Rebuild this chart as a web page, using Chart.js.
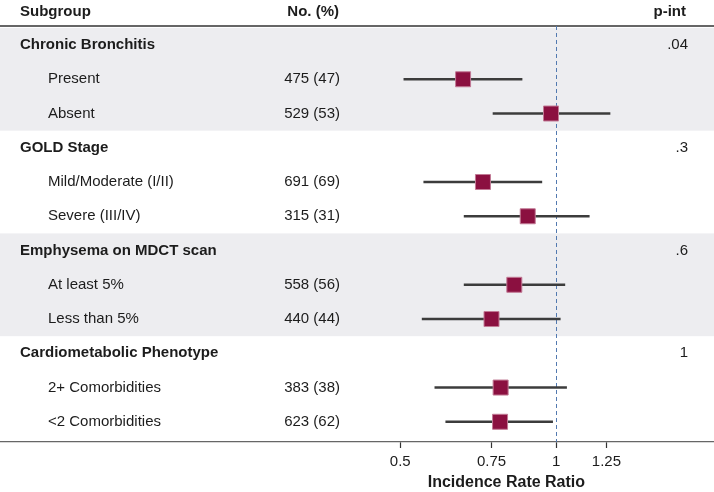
<!DOCTYPE html>
<html>
<head>
<meta charset="utf-8">
<script src="https://cdn.jsdelivr.net/npm/chart.js@4/dist/chart.umd.min.js"></script>
<style>
  html, body { margin: 0; padding: 0; background: #fff; }
  #wrap { width: 714px; height: 492px; position: relative; }
</style>
</head>
<body>
<div id="wrap"><canvas id="forest"></canvas></div>
<script>
// Grupos y valores
const groups = ['Chronic Bronchitis', 'GOLD Stage', 'Emphysema on MDCT scan', 'Cardiometabolic Phenotype'];
const pInt = ['.04', '.3', '.6', '1'];
const subgroups = ['Present', 'Absent', 'Mild/Moderate (I/II)', 'Severe (III/IV)',
                   'At least 5%', 'Less than 5%', '2+ Comorbidities', '<2 Comorbidities'];
const counts = ['475 (47)', '529 (53)', '691 (69)', '315 (31)',
                '558 (56)', '440 (44)', '383 (38)', '623 (62)'];
const irr   = [0.661, 0.977, 0.722, 0.881, 0.830, 0.750, 0.781, 0.779];
const lower = [0.508, 0.755, 0.555, 0.664, 0.664, 0.551, 0.583, 0.612];
const upper = [0.859, 1.270, 0.938, 1.158, 1.039, 1.018, 1.047, 0.984];
const tickValues = [0.5, 0.75, 1, 1.25];

// fila de cada grupo / subgrupo (0 = primer grupo)
const groupRow = groups.map((g, i) => i * 3);
const subRow = subgroups.map((s, i) => Math.floor(i / 2) * 3 + 1 + (i % 2));

const FONT = '"Liberation Sans", Arial, Helvetica, sans-serif';
const TEXT = '#1c1c1c';

const tablePlugin = {
    id: 'tablePlugin',
    beforeDatasetsDraw(chart) {
        const c = chart.ctx;
        const area = chart.chartArea;
        const x = chart.scales.x;
        const y = chart.scales.y;
        c.save();
        // bandas grises para el 1º y 3º grupo
        c.fillStyle = '#ededf0';
        [0, 2].forEach(g => {
            const top = y.getPixelForValue(groupRow[g] - 0.5);
            const bot = y.getPixelForValue(groupRow[g] + 2.5);
            c.fillRect(area.left, top, area.right - area.left, bot - top);
        });
        // línea bajo la cabecera
        const ruleY = y.getPixelForValue(-0.555);
        c.strokeStyle = '#333';
        c.lineWidth = 1.5;
        c.beginPath();
        c.moveTo(area.left, ruleY);
        c.lineTo(area.right, ruleY);
        c.stroke();
        // línea de referencia en 1
        const xr = Math.round(x.getPixelForValue(1)) + 0.5;
        c.strokeStyle = '#5279b0';
        c.lineWidth = 1;
        c.setLineDash([4, 3]);
        c.beginPath();
        c.moveTo(xr, ruleY);
        c.lineTo(xr, area.bottom);
        c.stroke();
        c.restore();
    },
    afterDraw(chart) {
        const c = chart.ctx;
        const x = chart.scales.x;
        const y = chart.scales.y;
        c.save();
        c.fillStyle = TEXT;
        c.textBaseline = 'middle';
        const headY = y.getPixelForValue(-1) + 1;
        c.font = 'bold 15px ' + FONT;
        c.textAlign = 'left';
        c.fillText('Subgroup', 20, headY);
        c.textAlign = 'right';
        c.fillText('No. (%)', 339, headY);
        c.fillText('p-int', 686, headY);

        groups.forEach((g, i) => {
            const py = y.getPixelForValue(groupRow[i]);
            c.font = 'bold 15px ' + FONT;
            c.textAlign = 'left';
            c.fillText(g, 20, py);
            c.font = '15px ' + FONT;
            c.textAlign = 'right';
            c.fillText(pInt[i], 688, py);
        });
        c.font = '15px ' + FONT;
        subgroups.forEach((s, i) => {
            const py = y.getPixelForValue(subRow[i]);
            c.textAlign = 'left';
            c.fillText(s, 48, py);
            c.textAlign = 'right';
            c.fillText(counts[i], 340, py);
        });

        // título del eje x
        const mid = (x.getPixelForValue(tickValues[0]) + x.getPixelForValue(tickValues[tickValues.length - 1])) / 2 + 3;
        c.font = 'bold 16px ' + FONT;
        c.textAlign = 'center';
        c.fillText('Incidence Rate Ratio', mid, 483);
        c.restore();
    }
};

new Chart(document.getElementById('forest').getContext('2d'), {
    type: 'bar',
    data: {
        datasets: [
            {
                type: 'bar',
                indexAxis: 'y',
                data: subgroups.map((s, i) => ({ x: [lower[i], upper[i]], y: subRow[i] })),
                backgroundColor: '#3c3c3c',
                barThickness: 2,
                order: 2
            },
            {
                type: 'scatter',
                data: subgroups.map((s, i) => ({ x: irr[i], y: subRow[i] })),
                pointStyle: 'rect',
                pointRadius: 10.6,
                backgroundColor: '#8b1040',
                borderColor: '#c27a95',
                borderWidth: 1,
                order: 1
            }
        ]
    },
    options: {
        responsive: true,
        maintainAspectRatio: false,
        animation: false,
        layout: { padding: 0, autoPadding: false },
        plugins: {
            legend: { display: false },
            tooltip: { enabled: false }
        },
        scales: {
            x: {
                type: 'logarithmic',
                min: 0.0844,
                max: 2.016,
                offset: false,
                afterBuildTicks: function(scale) {
                    scale.ticks = tickValues.map(v => ({ value: v }));
                },
                afterFit: function(scale) {
                    scale.height = 50;
                },
                ticks: {
                    autoSkip: false,
                    maxRotation: 0,
                    padding: 5,
                    color: TEXT,
                    font: { family: FONT, size: 15 },
                    callback: function(value) {
                        return String(value);
                    }
                },
                grid: {
                    offset: false,
                    drawOnChartArea: false,
                    drawTicks: true,
                    tickLength: 6,
                    tickColor: '#333',
                    tickWidth: 1.2
                },
                border: { color: '#666', width: 1.3 }
            },
            y: {
                type: 'linear',
                reverse: true,
                offset: false,
                grace: 0,
                min: -1.314,
                max: 11.59,
                display: false
            }
        }
    },
    plugins: [tablePlugin]
});
</script>
</body>
</html>
